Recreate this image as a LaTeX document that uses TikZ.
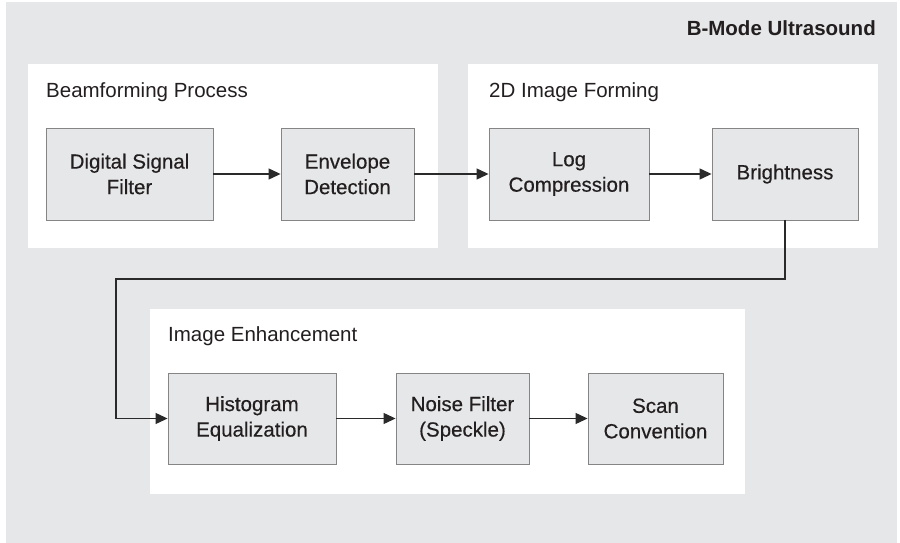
\documentclass[tikz,border=0pt]{standalone}
\usepackage{fontspec}
\setmainfont{Liberation Sans}
\newfontfamily\boxfont{Liberation Sans}[FakeBold=0.35]
\usetikzlibrary{arrows.meta}
\definecolor{bggray}{HTML}{E6E7E8}
\definecolor{boxfill}{HTML}{E6E7E8}
\definecolor{boxline}{HTML}{858585}
\definecolor{linecol}{HTML}{2A2A2A}
\definecolor{txt}{HTML}{231F20}
\tikzset{
  stepbox/.style={draw=boxline, fill=boxfill, line width=0.9pt, inner sep=0pt, align=center,
    minimum height=92pt, text=txt, font=\boxfont\fontsize{20.5}{25.5}\selectfont},
  paneltitle/.style={anchor=base west, inner sep=0pt, text=txt, font=\fontsize{20.5}{25}\selectfont},
  flow/.style={draw=linecol, line width=1.2pt, -{Triangle[length=12pt,width=11pt]}},
}
\begin{document}
\begin{tikzpicture}[x=1pt,y=-1pt]
\useasboundingbox (0,0) rectangle (900,543);
\fill[white] (0,0) rectangle (900,543);
\fill[bggray] (6,2) rectangle (897,543);
% panels
\fill[white] (28,64) rectangle (438,248);
\fill[white] (468,64) rectangle (878,248);
\fill[white] (150,309) rectangle (745,494);
% titles
\node[anchor=base east, inner sep=0pt, text=txt, font=\fontsize{20.5}{25}\selectfont\bfseries] (main) at (876,36) {B-Mode Ultrasound};
\node[paneltitle] (t1) at (46,97) {Beamforming Process};
\node[paneltitle] (t2) at (489,97) {2D Image Forming};
\node[paneltitle] (t3) at (168,341) {Image Enhancement};
% boxes
\node[stepbox, minimum width=167pt] (dsf) at (129.5,174) {Digital Signal\\Filter};
\node[stepbox, minimum width=133pt] (env) at (347.5,174) {Envelope\\Detection};
\node[stepbox, minimum width=160pt] (log) at (569,174) {Log\\Compression};
\node[stepbox, minimum width=146pt] (bri) at (785,174) {Brightness};
\node[stepbox, minimum width=168pt, minimum height=91pt] (his) at (252,418.5) {Histogram\\Equalization};
\node[stepbox, minimum width=133pt, minimum height=91pt] (noi) at (462.5,418.5) {Noise Filter\\(Speckle)};
\node[stepbox, minimum width=135pt, minimum height=91pt] (scn) at (655.5,418.5) {Scan\\Convention};
% connectors
\draw[flow] (dsf) -- (env);
\draw[flow] (env) -- (log);
\draw[flow] (log) -- (bri);
\coordinate (c1) at (785,279);
\coordinate (c2) at (116,279);
\coordinate (c3) at (116,418.5);
\draw[flow] (bri.south) -- (c1) -- (c2) -- (c3) -- (his.west);
\draw[flow] (his) -- (noi);
\draw[flow] (noi) -- (scn);
\end{tikzpicture}
\end{document}
